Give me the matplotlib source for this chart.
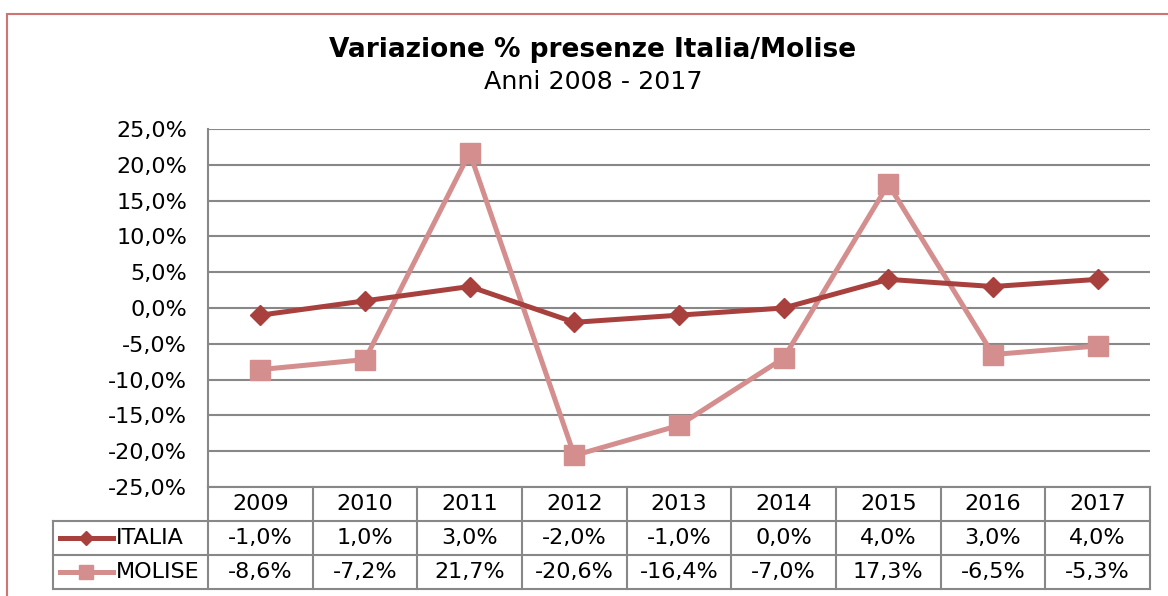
import matplotlib.pyplot as plt
from matplotlib.patches import Rectangle
from matplotlib.lines import Line2D

# dati
anni = ['2009', '2010', '2011', '2012', '2013', '2014', '2015', '2016', '2017']
italia = [-1.0, 1.0, 3.0, -2.0, -1.0, 0.0, 4.0, 3.0, 4.0]
molise = [-8.6, -7.2, 21.7, -20.6, -16.4, -7.0, 17.3, -6.5, -5.3]
serie_nomi = ['ITALIA', 'MOLISE']

col_italia = '#A8403E'
col_molise = '#D48E8D'
col_griglia = '#888888'

plt.rcParams['font.family'] = ['DejaVu Sans']
fs = 16

W, H = 1168, 596
fig = plt.figure(figsize=(W / 100, H / 100), dpi=100)

# cornice esterna
fig.patches.append(Rectangle((7 / W, -0.1), 1.2, 1 - 14 / H + 0.1, transform=fig.transFigure,
                             fill=False, edgecolor='#D07373', linewidth=1.5))

# titolo
fig.text(593 / W, 1 - 50 / H, 'Variazione % presenze Italia/Molise', ha='center', va='center',
         fontsize=19, fontweight='bold')
fig.text(593 / W, 1 - 82 / H, 'Anni 2008 - 2017', ha='center', va='center', fontsize=18.3)

# area grafico
x0, x1, ytop, ybot = 208, 1150, 129, 487
ax = fig.add_axes([x0 / W, 1 - ybot / H, (x1 - x0) / W, (ybot - ytop) / H])
x = list(range(len(anni)))
ax.plot(x, italia, color=col_italia, lw=3.6, marker='D', ms=10.5, zorder=4)
ax.plot(x, molise, color=col_molise, lw=3.6, marker='s', ms=14, zorder=3)
ax.set_xlim(-0.5, len(anni) - 0.5)
ax.set_ylim(-25, 25)
ax.set_yticks(range(-25, 26, 5))
ax.set_yticklabels([f'{v:.1f}%'.replace('.', ',') for v in range(-25, 26, 5)], fontsize=fs)
ax.set_xticks([])
ax.tick_params(axis='y', length=0, pad=15)
ax.grid(axis='y', color=col_griglia, lw=1.5)
ax.set_axisbelow(True)
for s in ['top', 'right', 'bottom']:
    ax.spines[s].set_visible(False)
ax.spines['left'].set_color(col_griglia)
ax.spines['left'].set_linewidth(1.5)

# tabella dati
tx0, tbot = 53, 589
leg_w = (x0 - tx0) / ((x1 - x0) / len(anni))
tax = fig.add_axes([tx0 / W, 1 - tbot / H, (x1 - tx0) / W, (tbot - ybot) / H])
tax.set_xlim(-0.5 - leg_w, len(anni) - 0.5)
tax.set_ylim(3, 0)
tax.axis('off')
lk = dict(color=col_griglia, lw=1.5, clip_on=False)
tax.plot([-0.5, len(anni) - 0.5], [0, 0], **lk)
for r in range(1, 4):
    tax.plot([-0.5 - leg_w, len(anni) - 0.5], [r, r], **lk)
tax.plot([-0.5 - leg_w, -0.5 - leg_w], [1, 3], **lk)
for i in range(len(anni) + 1):
    tax.plot([i - 0.5, i - 0.5], [0, 3], **lk)
for i, a in enumerate(anni):
    tax.text(i, 0.5, a, ha='center', va='center', fontsize=fs)
for r, (nome, vals, col, mk, ms) in enumerate(
        [(serie_nomi[0], italia, col_italia, 'D', 7), (serie_nomi[1], molise, col_molise, 's', 10)], start=1):
    for i, v in enumerate(vals):
        tax.text(i, r + 0.5, f'{v:.1f}%'.replace('.', ','), ha='center', va='center', fontsize=fs)
    lx0 = -0.5 - leg_w + 0.07
    lx1 = lx0 + 0.5
    tax.add_line(Line2D([lx0, lx1], [r + 0.5, r + 0.5], color=col, lw=3.6))
    tax.plot([(lx0 + lx1) / 2], [r + 0.5], marker=mk, color=col, ms=ms)
    tax.text(lx1 + 0.03, r + 0.5, nome, ha='left', va='center', fontsize=fs)

fig.savefig('out.png', dpi=100)
